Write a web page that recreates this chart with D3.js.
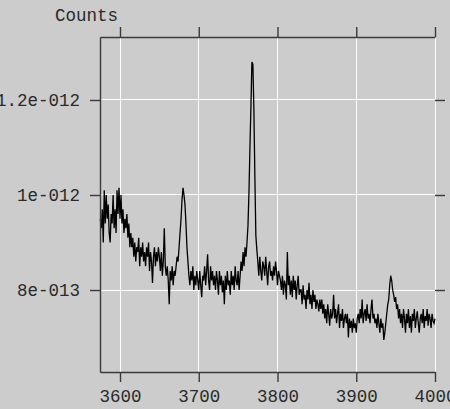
<!DOCTYPE html>
<html>
<head>
<meta charset="utf-8">
<script src="https://cdn.jsdelivr.net/npm/d3@7"></script>
<style>
  html, body { margin: 0; padding: 0; background: #cccccc; }
  svg { display: block; }
  text { font-family: "Liberation Mono", "Courier New", monospace; }
</style>
</head>
<body>
<div id="chart"></div>
<script>
// spectrum: counts in units of 1e-13, evenly spaced channels from 3575 to 4000
let waveStart = 3575;
let waveEnd = 4000;
let counts13 = [
  9.5, 9.3, 9.7, 9.0, 10.1, 9.4, 10.0, 9.5, 9.8, 9.2, 9.0, 9.6, 9.4, 10.0, 9.3, 9.7, 9.2, 10.1, 9.6, 10.15, 9.5, 10.0, 9.4, 9.7, 9.2, 9.5,
  9.3, 9.6, 9.1, 9.4, 8.9, 9.2,
  8.9, 9.1, 8.7, 9.0, 8.6, 8.9, 8.8, 9.1, 8.5, 8.9, 8.7, 9.0, 8.6, 8.8, 8.5, 8.9, 8.7, 9.0, 8.4, 8.8, 8.6, 8.15, 8.7, 8.9, 8.5, 8.8, 8.6, 8.9,
  8.7, 8.4, 8.8, 8.3, 8.6, 9.3, 8.5,
  8.3, 8.5, 8.2, 7.7, 8.4, 8.2, 8.5, 8.1, 8.4, 8.3,
  8.5, 8.7, 8.6, 8.9, 9.2, 9.5, 9.9, 10.15, 10.0, 9.8, 9.4, 8.9, 8.6, 8.3,
  8.1, 8.4, 8.2, 8.5, 8.0, 8.3, 8.1, 8.4, 8.2, 8.0, 8.4, 8.1, 7.85, 8.3, 8.2, 8.5, 8.1, 8.4, 8.75, 8.2, 8.0, 8.5, 8.2, 8.4, 8.1, 8.3, 8.0, 8.4,
  8.2, 7.9, 8.4, 8.1, 8.3, 7.95, 8.2, 7.7, 8.3, 8.0, 8.4, 8.1, 8.2, 7.9, 8.4, 8.1, 8.3, 8.0, 8.5, 8.2, 8.1, 8.4, 8.0, 8.3,
  8.6, 8.4, 8.8, 8.5, 8.9, 8.7, 9.0, 9.35,
  10.05, 11.0, 11.85, 12.8, 12.75, 11.8, 10.4, 9.15, 8.85,
  8.6, 8.3, 8.7, 8.4, 8.2, 8.6, 8.5, 8.3, 8.7, 8.4, 8.1, 8.5, 8.6, 8.3, 8.4, 8.2, 8.5, 8.3, 8.6, 8.4, 8.1, 8.4, 8.3,
  8.2, 8.0, 8.3, 7.9, 8.2, 8.1, 7.8, 8.8, 8.1, 8.3, 7.9, 8.2, 7.85, 8.3, 8.0, 8.2, 7.8, 8.1, 8.3, 7.9, 8.0,
  8.0, 7.7, 8.1, 7.8, 7.9, 7.6, 8.0, 7.8, 8.15, 7.7, 7.9, 7.6, 8.0, 7.75, 7.9, 7.6, 7.8, 7.7, 7.55, 7.8,
  7.6, 7.8, 7.5, 7.7, 7.4, 7.6, 7.3, 7.7, 7.5, 7.25, 7.6, 7.4,
  7.5, 7.9, 7.4, 7.6, 7.3, 7.5, 7.7, 7.2, 7.5, 7.35, 7.6, 7.2, 7.4, 7.5,
  7.3, 7.5, 7.0, 7.4, 7.2, 7.35, 7.1, 7.4, 7.2, 7.3, 7.1, 7.4,
  7.5, 7.3, 7.6, 7.4, 7.8, 7.3, 7.5, 7.6, 7.35, 7.7, 7.4, 7.5, 7.3, 7.6, 7.8, 7.4, 7.5, 7.3,
  7.4, 7.2, 7.5, 7.3, 7.1, 7.4, 7.2, 7.3, 6.95, 7.1, 7.3,
  7.5, 7.7, 7.8, 8.1, 8.3, 8.2, 8.0, 7.9, 7.75, 7.85, 7.6,
  7.7, 7.4, 7.6, 7.3, 7.5, 7.2, 7.6, 7.4, 7.1, 7.5, 7.3, 7.6, 7.2, 7.45, 7.1, 7.5, 7.35, 7.6, 7.2, 7.4, 7.55, 7.3, 7.1, 7.4,
  7.5, 7.3, 7.6, 7.2, 7.45, 7.35, 7.6, 7.25, 7.5, 7.4, 7.2, 7.5, 7.35, 7.3, 7.4
];
let xTicks = [3600, 3700, 3800, 3900, 4000];
let yTicks = [8e-13, 1e-12, 1.2e-12];
let yTickLabels = ['8e-013', '1e-012', '1.2e-012'];
let yTitle = 'Counts';

let width = 450;
let height = 409;
let margin = {top: 37, right: 15, bottom: 37, left: 100};

let step = (waveEnd - waveStart) / (counts13.length - 1);
let spectrum = counts13.map((c, i) => ({wave: waveStart + i * step, counts: c * 1e-13}));

let x = d3.scaleLinear()
          .domain([3574.6, 4000])
          .range([margin.left, width - margin.right]);
let y = d3.scaleLinear()
          .domain([6.274e-13, 13.326e-13])
          .range([height - margin.bottom, margin.top]);

let svg = d3.select('#chart').append('svg')
            .attr('width', width)
            .attr('height', height)
            .attr('viewBox', [0, 0, width, height]);

// grid
svg.append('g')
    .selectAll('line')
    .data(xTicks)
    .join('line')
      .attr('x1', d => x(d)).attr('x2', d => x(d))
      .attr('y1', margin.top).attr('y2', height - margin.bottom)
      .attr('stroke', '#fff')
      .attr('shape-rendering', 'crispEdges');
svg.append('g')
    .selectAll('line')
    .data(yTicks)
    .join('line')
      .attr('x1', margin.left).attr('x2', width - margin.right)
      .attr('y1', d => y(d)).attr('y2', d => y(d))
      .attr('stroke', '#fff')
      .attr('shape-rendering', 'crispEdges');

// spectrum line
let line = d3.line()
            .x(d => x(d.wave))
            .y(d => y(d.counts));
svg.append('path')
    .datum(spectrum)
    .attr('d', line)
    .attr('fill', 'none')
    .attr('stroke', '#000')
    .attr('stroke-width', 1.3);

// axes
let styleAxis = g => {
    g.selectAll('.domain').attr('stroke', '#3a3a3a').attr('stroke-width', 1.4);
    g.selectAll('.tick line').attr('stroke', '#3a3a3a').attr('stroke-width', 1.4);
    g.selectAll('text')
        .attr('fill', '#2a2a2a')
        .style('font-size', '17.5px')
        .style('font-family', '"Liberation Mono", "Courier New", monospace');
};

svg.append('g')
    .attr('transform', `translate(0,${height - margin.bottom})`)
    .call(d3.axisBottom(x).tickValues(xTicks).tickSize(10).tickSizeOuter(0).tickPadding(8).tickFormat(d3.format('d')))
    .call(styleAxis);

svg.append('g')
    .attr('transform', `translate(0,${margin.top})`)
    .call(d3.axisTop(x).tickValues(xTicks).tickSize(10).tickSizeOuter(0).tickFormat(''))
    .call(styleAxis);

svg.append('g')
    .attr('transform', `translate(${margin.left},0)`)
    .call(d3.axisLeft(y).tickValues(yTicks).tickSize(10).tickSizeOuter(0).tickPadding(10)
            .tickFormat((d, i) => yTickLabels[i]))
    .call(styleAxis);

svg.append('g')
    .attr('transform', `translate(${width - margin.right},0)`)
    .call(d3.axisRight(y).tickValues(yTicks).tickSize(10).tickFormat(''))
    .call(styleAxis)
    .call(g => g.select('.domain').remove());

svg.append('text')
    .attr('x', 55)
    .attr('y', 21)
    .attr('fill', '#2a2a2a')
    .style('font-size', '17.5px')
    .text(yTitle);
</script>
</body>
</html>
